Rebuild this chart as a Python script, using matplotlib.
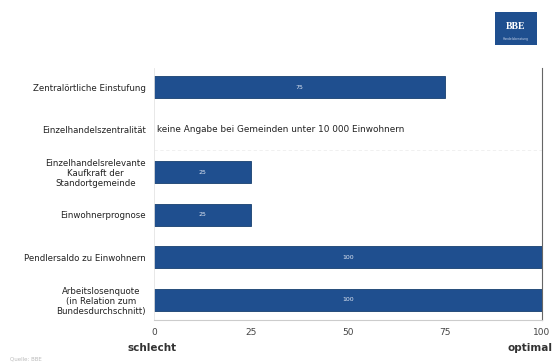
import numpy as np
import matplotlib.pyplot as plt
from matplotlib.patches import Rectangle

# Daten
kategorien = ["Zentralörtliche Einstufung",
              "Einzelhandelszentralität",
              "Einzelhandelsrelevante\nKaufkraft der\nStandortgemeinde",
              "Einwohnerprognose",
              "Pendlersaldo zu Einwohnern",
              "Arbeitslosenquote\n(in Relation zum\nBundesdurchschnitt)"]
werte = [75, None, 25, 25, 100, 100]
hinweis = "keine Angabe bei Gemeinden unter 10 000 Einwohnern"
xticks = [0, 25, 50, 75, 100]

blau = "#1f4f8f"

fig = plt.figure(figsize=(5.54, 3.64), dpi=100)
ax = fig.add_axes([0.278, 0.121, 0.700, 0.692])

y = np.arange(len(kategorien))
for i, w in enumerate(werte):
    if w is None:
        ax.text(0.8, i, hinweis, va="center", ha="left", fontsize=6.4, color="#222222")
        continue
    ax.barh(i, w, height=0.52, color=blau, edgecolor="#17406f", linewidth=0.6)
    ax.text(w / 2, i, str(w), ha="center", va="center", fontsize=4.5, color="#dfe6f2")

ax.set_xlim(0, 100)
ax.set_ylim(5.47, -0.45)
ax.set_yticks(y)
ax.set_yticklabels(kategorien, fontsize=6.2, color="#222222", multialignment="center",
                   linespacing=1.15)
ax.set_xticks(xticks)
ax.set_xticklabels([str(t) for t in xticks], fontsize=6.5, color="#444444")
ax.tick_params(axis="y", length=0, pad=6)
ax.tick_params(axis="x", length=0, pad=6)

ax.spines["top"].set_visible(False)
ax.spines["left"].set_color("#e4e4e4")
ax.spines["left"].set_linewidth(0.6)
ax.spines["bottom"].set_color("#cccccc")
ax.spines["bottom"].set_linewidth(0.8)
ax.spines["right"].set_color("#666666")
ax.spines["right"].set_linewidth(0.8)

ax.axhline(1.47, color="#eeeeee", lw=0.6, ls=(0, (4, 3)))

fig.text(0.275, 0.045, "schlecht", ha="center", va="center", fontsize=7.5,
         fontweight="bold", color="#333333")
fig.text(0.997, 0.045, "optimal", ha="right", va="center", fontsize=7.5,
         fontweight="bold", color="#333333")
fig.text(0.018, 0.008, "Quelle: BBE", ha="left", va="bottom", fontsize=4,
         color="#bbbbbb")

# Logo
fig.patches.append(Rectangle((0.894, 0.876), 0.075, 0.09, transform=fig.transFigure,
                             facecolor="#1f4f8f", edgecolor="none"))
fig.text(0.931, 0.928, "BBE", ha="center", va="center", fontsize=7,
         fontweight="bold", color="white", family="Liberation Serif")
fig.text(0.931, 0.893, "Handelsberatung", ha="center", va="center", fontsize=2.2,
         color="#c8d4ea")

fig.savefig("out.png", dpi=100, facecolor="white")
